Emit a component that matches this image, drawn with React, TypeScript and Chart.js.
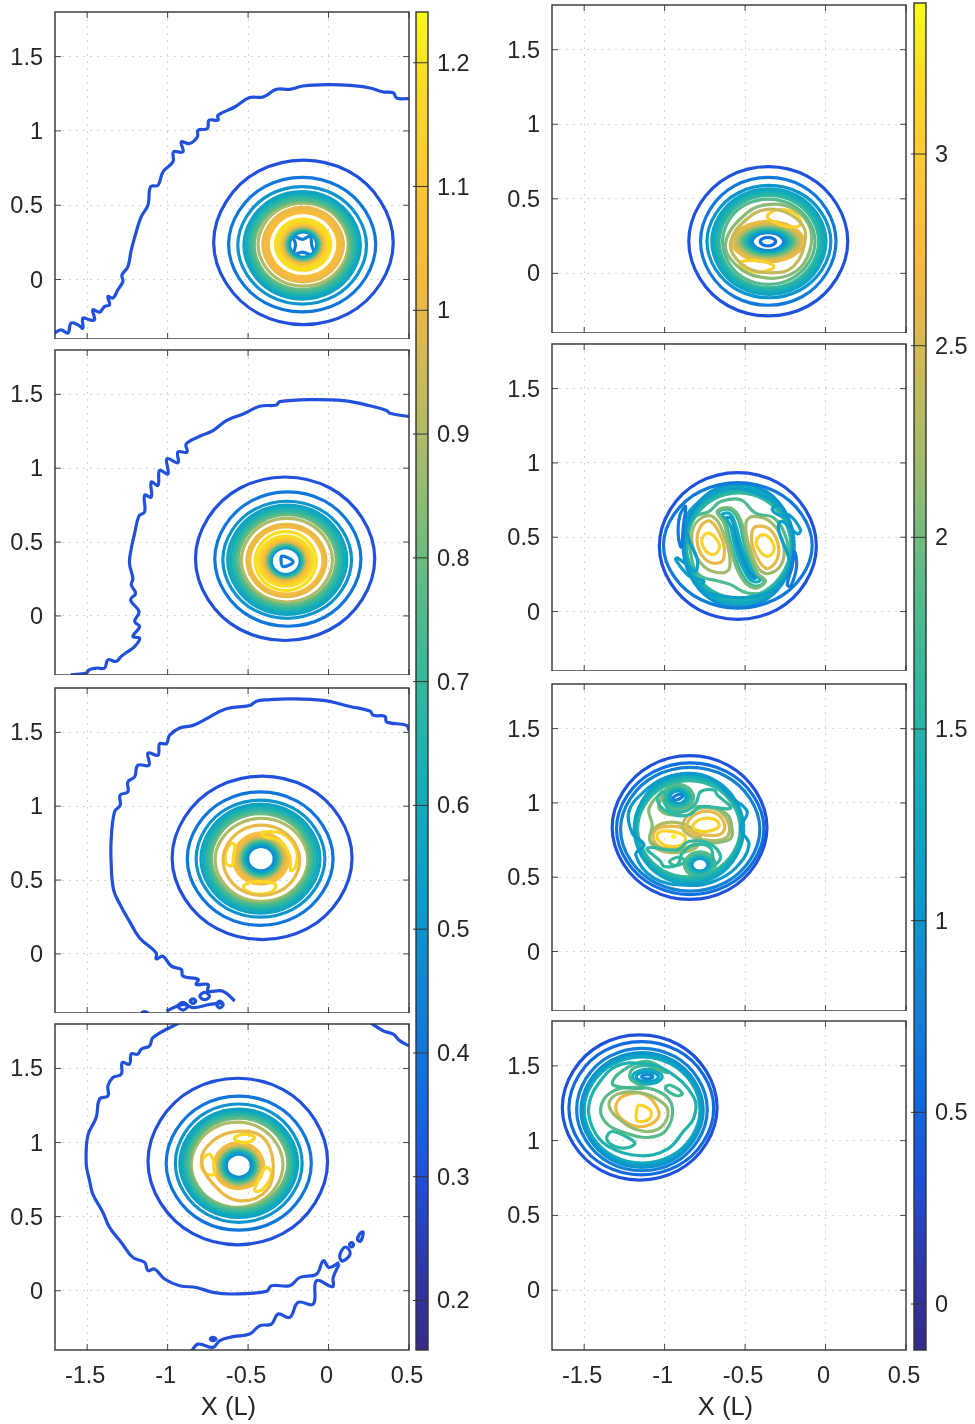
import React, { useEffect, useRef } from "react";
import { Chart, registerables } from "chart.js";
Chart.register(...registerables);

type Curve = [number, number[]];

const xTicks = [-1.5, -1, -0.5, 0, 0.5];
const yTicks = [0, 0.5, 1, 1.5];
const xRange = [-1.7, 0.5];
const yRange = [-0.4, 1.8];
const leftBarTicks = [0.2, 0.3, 0.4, 0.5, 0.6, 0.7, 0.8, 0.9, 1, 1.1, 1.2];
const rightBarTicks = [0, 0.5, 1, 1.5, 2, 2.5, 3];
const leftBarRange = [0.16, 1.241];
const rightBarRange = [-0.12, 3.394];
const mapStops = [0, 0.06, 0.13, 0.2, 0.27, 0.34, 0.42, 0.5, 0.58, 0.66, 0.74, 0.8, 0.88, 0.95, 1];
const mapColors = ["#352a87", "#2f37a8", "#2050dc", "#0f6fe0", "#1285d4", "#0a9cca", "#14adb8", "#34b89c", "#62bb85", "#a0bb6c", "#d2ba55", "#f5b93f", "#fcc733", "#f8dd22", "#f9fb15"];

const panelAOpen: Curve[] = [[0.3, [-1.703,-.36,-1.662,-.338,-1.62,-.36,-1.6,-.293,-1.558,-.304,-1.527,-.327,-1.527,-.26,-1.485,-.271,-1.454,-.271,-1.465,-.204,-1.423,-.219,-1.392,-.181,-1.361,-.17,-1.371,-.114,-1.34,-.125,-1.309,-.069,-1.278,-.013,-1.284,.031,-1.247,.087,-1.226,.199,-1.195,.322,-1.164,.423,-1.122,.501,-1.106,.624,-1.06,.635,-1.029,.725,-.967,.792,-.963,.859,-.905,.859,-.915,.926,-.863,.915,-.815,.96,-.811,1.004,-.753,1.016,-.743,1.072,-.687,1.072,-.687,1.105,-.583,1.161,-.49,1.224,-.407,1.228,-.324,1.28,-.241,1.28,-.158,1.302,0,1.311,.133,1.306,.257,1.289,.34,1.262,.402,1.257,.423,1.221,.5,1.217]]];
const panelAClosed: Curve[] = [
[0.3,[.402,.25,.123,.729,-.435,.729,-.714,.25,-.435,-.229,.123,-.229]],
[0.4,[.293,.235,.065,.627,-.393,.627,-.621,.235,-.393,-.157,.065,-.157]],
[0.5,[.236,.23,.036,.572,-.364,.572,-.564,.23,-.364,-.112,.036,-.112]],
[0.56,[.198,.23,.017,.543,-.345,.543,-.526,.23,-.345,-.083,.017,-.083]],
[0.62,[.181,.23,.008,.529,-.336,.529,-.509,.23,-.336,-.069,.008,-.069]],
[0.68,[.164,.23,0,.514,-.328,.514,-.492,.23,-.328,-.054,0,-.054]],
[0.74,[.148,.23,-.008,.5,-.32,.5,-.476,.23,-.32,-.04,-.008,-.04]],
[0.8,[.134,.23,-.015,.488,-.313,.488,-.462,.23,-.313,-.028,-.015,-.028]],
[0.9,[.122,.235,-.018,.477,-.298,.477,-.438,.235,-.298,-.007,-.018,-.007]],
[1.0,[.092,.235,-.033,.452,-.283,.452,-.408,.235,-.283,.018,-.033,.018]],
[1.03,[.074,.235,-.042,.436,-.274,.436,-.39,.235,-.274,.034,-.042,.034]],
[1.05,[.058,.235,-.05,.422,-.266,.422,-.374,.235,-.266,.048,-.05,.048]],
[1.19,[.014,.235,-.072,.384,-.244,.384,-.33,.235,-.244,.086,-.072,.086]],
[1.18,[0,.235,-.079,.372,-.237,.372,-.316,.235,-.237,.098,-.079,.098]],
[1.13,[-.013,.235,-.086,.361,-.231,.361,-.303,.235,-.231,.109,-.086,.109]],
[1.03,[-.026,.235,-.092,.349,-.224,.349,-.29,.235,-.224,.121,-.092,.121]],
[0.9,[-.038,.235,-.098,.339,-.218,.339,-.278,.235,-.218,.131,-.098,.131]],
[0.76,[-.05,.235,-.104,.329,-.212,.329,-.266,.235,-.212,.141,-.104,.141]],
[0.62,[-.062,.235,-.11,.318,-.206,.318,-.254,.235,-.206,.152,-.11,.152]],
[0.5,[-.074,.235,-.116,.308,-.2,.308,-.242,.235,-.2,.162,-.116,.162]],
[0.42,[-.115,.29,-.165,.27,-.22,.295,-.205,.235,-.215,.17,-.16,.185,-.09,.16,-.105,.235]],
];

const panelBOpen: Curve[] = [[0.3,[-1.6,-.398,-1.506,-.387,-1.485,-.364,-1.444,-.353,-1.392,-.353,-1.371,-.297,-1.32,-.308,-1.288,-.274,-1.247,-.241,-1.205,-.207,-1.174,-.151,-1.216,-.139,-1.174,-.072,-1.205,-.038,-1.178,.029,-1.23,.108,-1.199,.153,-1.226,.209,-1.216,.254,-1.237,.355,-1.226,.456,-1.205,.558,-1.178,.677,-1.143,.704,-1.143,.816,-1.102,.805,-1.102,.906,-1.06,.884,-1.05,.985,-.998,.962,-1.004,1.064,-.936,1.037,-.936,1.109,-.88,1.109,-.884,1.165,-.79,1.221,-.718,1.255,-.635,1.322,-.531,1.367,-.427,1.419,-.324,1.428,-.303,1.45,-.116,1.464,.091,1.457,.257,1.423,.361,1.39,.382,1.372,.5,1.349]]];
const panelBClosed: Curve[] = [
[0.3,[.287,.387,.009,.866,-.549,.866,-.827,.387,-.549,-.092,.009,-.092]],
[0.4,[.201,.385,-.026,.779,-.48,.779,-.707,.385,-.48,-.009,-.026,-.009]],
[0.5,[.143,.38,-.057,.723,-.457,.723,-.657,.38,-.457,.037,-.057,.037]],
[0.56,[.113,.38,-.072,.7,-.442,.7,-.627,.38,-.442,.06,-.072,.06]],
[0.62,[.095,.38,-.081,.685,-.433,.685,-.609,.38,-.433,.075,-.081,.075]],
[0.68,[.078,.38,-.089,.67,-.425,.67,-.592,.38,-.425,.09,-.089,.09]],
[0.74,[.063,.38,-.097,.657,-.417,.657,-.577,.38,-.417,.103,-.097,.103]],
[0.8,[.048,.38,-.105,.644,-.409,.644,-.562,.38,-.409,.116,-.105,.116]],
[0.9,[.024,.377,-.117,.622,-.401,.622,-.542,.377,-.401,.132,-.117,.132]],
[1.0,[-.017,.375,-.14,.587,-.384,.587,-.507,.375,-.384,.163,-.14,.163]],
[1.03,[-.034,.375,-.148,.572,-.376,.572,-.49,.375,-.376,.178,-.148,.178]],
[1.19,[-.076,.371,-.171,.544,-.361,.544,-.456,.371,-.361,.198,-.171,.198]],
[1.18,[-.096,.371,-.181,.518,-.351,.518,-.436,.371,-.351,.224,-.181,.224]],
[1.13,[-.111,.371,-.188,.505,-.344,.505,-.421,.371,-.344,.237,-.188,.237]],
[1.04,[-.126,.371,-.196,.492,-.336,.492,-.406,.371,-.336,.25,-.196,.25]],
[0.9,[-.139,.371,-.203,.481,-.329,.481,-.393,.371,-.329,.261,-.203,.261]],
[0.76,[-.152,.371,-.209,.47,-.323,.47,-.38,.371,-.323,.272,-.209,.272]],
[0.62,[-.164,.371,-.215,.459,-.317,.459,-.368,.371,-.317,.283,-.215,.283]],
[0.5,[-.176,.371,-.221,.449,-.311,.449,-.356,.371,-.311,.293,-.221,.293]],
[0.42,[-.288,.405,-.22,.367,-.282,.333,-.295,.37]],
];

const panelCOpen: Curve[] = [
[0.3,[.5,1.513,.485,1.547,.361,1.57,.351,1.608,.278,1.615,.257,1.644,.133,1.675,-.033,1.716,-.241,1.727,-.386,1.72,-.448,1.711,-.49,1.682,-.635,1.66,-.759,1.592,-.842,1.547,-.925,1.529,-.988,1.48,-1.008,1.423,-1.05,1.423,-1.06,1.345,-1.122,1.36,-1.116,1.277,-1.185,1.277,-1.205,1.199,-1.247,1.165,-1.247,1.097,-1.295,1.075,-1.295,1.007,-1.33,.962,-1.351,.771,-1.351,.614,-1.336,.434,-1.295,.333,-1.237,.22,-1.174,.108,-1.071,.007,-1.071,-.034,-1.029,-.016,-.977,-.083,-.915,-.106,-.905,-.151,-.811,-.173,-.822,-.207,-.749,-.207,-.749,-.252,-.656,-.252,-.583,-.319]],
[0.3,[-1.008,-.387,-.905,-.342,-.842,-.364,-.738,-.342,-.656,-.331]],
[0.3,[-1.165,-.4,-1.143,-.39,-1.12,-.4]],
];
const panelCClosed: Curve[] = [
[0.3,[-.74,-.286,-.77,-.26,-.8,-.286,-.77,-.31]],
[0.3,[-.825,-.319,-.842,-.305,-.86,-.319,-.842,-.335]],
[0.3,[-.655,-.342,-.676,-.32,-.695,-.342,-.676,-.365]],
[0.3,[-.875,-.353,-.905,-.33,-.935,-.353,-.905,-.38]],
[0.3,[.146,.65,-.133,1.129,-.693,1.129,-.972,.65,-.693,.171,-.133,.171]],
[0.4,[.028,.645,-.199,1.036,-.651,1.036,-.878,.645,-.651,.254,-.199,.254]],
[0.5,[-.023,.645,-.223,.988,-.623,.988,-.823,.645,-.623,.302,-.223,.302]],
[0.56,[-.053,.645,-.238,.965,-.608,.965,-.793,.645,-.608,.325,-.238,.325]],
[0.62,[-.071,.645,-.247,.95,-.599,.95,-.775,.645,-.599,.34,-.247,.34]],
[0.68,[-.088,.645,-.255,.935,-.591,.935,-.758,.645,-.591,.355,-.255,.355]],
[0.74,[-.103,.645,-.263,.922,-.583,.922,-.743,.645,-.583,.368,-.263,.368]],
[0.8,[-.118,.645,-.271,.909,-.575,.909,-.728,.645,-.575,.381,-.271,.381]],
[0.9,[-.129,.636,-.273,.879,-.561,.879,-.705,.636,-.561,.393,-.273,.393]],
[1.0,[-.179,.634,-.298,.84,-.536,.84,-.655,.634,-.536,.428,-.298,.428]],
[1.17,[-.61,.745,-.585,.74,-.59,.66,-.6,.6,-.635,.61,-.64,.68]],
[1.17,[-.41,.825,-.28,.81,-.2,.7,-.205,.59,-.235,.565,-.24,.66,-.3,.76,-.41,.8]],
[1.17,[-.525,.465,-.43,.49,-.33,.47,-.355,.42,-.45,.405,-.515,.43]],
[1.05,[-.248,.645,-.334,.794,-.506,.794,-.592,.645,-.506,.496,-.334,.496]],
[1.02,[-.26,.645,-.34,.784,-.5,.784,-.58,.645,-.5,.506,-.34,.506]],
[0.95,[-.272,.645,-.346,.773,-.494,.773,-.568,.645,-.494,.517,-.346,.517]],
[0.86,[-.284,.645,-.352,.763,-.488,.763,-.556,.645,-.488,.527,-.352,.527]],
[0.76,[-.296,.645,-.358,.752,-.482,.752,-.544,.645,-.482,.538,-.358,.538]],
[0.66,[-.308,.645,-.364,.742,-.476,.742,-.532,.645,-.476,.548,-.364,.548]],
[0.56,[-.322,.645,-.371,.73,-.469,.73,-.518,.645,-.469,.56,-.371,.56]],
[0.48,[-.338,.645,-.379,.716,-.461,.716,-.502,.645,-.461,.574,-.379,.574]],
];

const panelDOpen: Curve[] = [
[0.3,[-.925,1.81,-1.091,1.709,-1.112,1.653,-1.164,1.63,-1.185,1.597,-1.226,1.597,-1.237,1.529,-1.282,1.54,-1.288,1.462,-1.34,1.439,-1.371,1.383,-1.371,1.315,-1.423,1.293,-1.444,1.169,-1.496,1.046,-1.506,.855,-1.485,.742,-1.465,.652,-1.402,.528,-1.361,.427,-1.288,.326,-1.216,.225,-1.143,.191,-1.122,.135,-1.081,.146,-1.019,.079,-.925,.034,-.822,.022,-.718,-.011,-.593,-.022,-.386,-.004,-.355,.034,-.241,.034,-.178,.09,-.075,.112,-.033,.202,.004,.157,.066,.191]],
[0.3,[.066,.18,.029,.09,.025,.027,-.075,.067,-.095,-.09,-.189,-.079,-.241,-.18,-.313,-.157,-.355,-.225,-.427,-.236,-.49,-.292,-.593,-.31,-.676,-.337,-.718,-.382,-.811,-.36,-.853,-.41]],
[0.3,[.257,1.81,.34,1.754,.402,1.731,.444,1.686,.5,1.653]],
];
const panelDClosed: Curve[] = [
[0.3,[.135,.25,.105,.295,.07,.24,.085,.2]],
[0.3,[.155,.31,.143,.325,.13,.31,.143,.295]],
[0.3,[.215,.395,.195,.385,.18,.345,.2,.335]],
[0.3,[-.7,-.326,-.718,-.315,-.735,-.326,-.718,-.337]],
[0.3,[-.006,.872,-.285,1.359,-.843,1.359,-1.122,.872,-.843,.385,-.285,.385]],
[0.4,[-.107,.861,-.332,1.253,-.784,1.253,-1.009,.861,-.784,.469,-.332,.469]],
[0.5,[-.164,.861,-.361,1.207,-.755,1.207,-.952,.861,-.755,.515,-.361,.515]],
[0.56,[-.192,.86,-.375,1.177,-.741,1.177,-.924,.86,-.741,.543,-.375,.543]],
[0.62,[-.208,.86,-.383,1.163,-.733,1.163,-.908,.86,-.733,.557,-.383,.557]],
[0.68,[-.223,.86,-.39,1.15,-.726,1.15,-.893,.86,-.726,.57,-.39,.57]],
[0.74,[-.238,.86,-.398,1.137,-.718,1.137,-.878,.86,-.718,.583,-.398,.583]],
[0.8,[-.253,.86,-.406,1.124,-.71,1.124,-.863,.86,-.71,.596,-.406,.596]],
[0.9,[-.283,.85,-.426,1.099,-.71,1.099,-.853,.85,-.71,.601,-.426,.601]],
[1.0,[-.344,.855,-.407,1.034,-.568,1.075,-.718,1.012,-.79,.877,-.697,.697,-.552,.607,-.386,.675]],
[1.17,[-.583,1.034,-.52,1.057,-.459,1.034,-.511,1.0,-.573,1.012]],
[1.17,[-.79,.866,-.739,.922,-.708,.832,-.718,.783,-.77,.798]],
[1.17,[-.386,.832,-.355,.787,-.407,.686,-.458,.675,-.438,.742]],
[1.04,[-.403,.843,-.48,.977,-.636,.977,-.713,.843,-.636,.709,-.48,.709]],
[0.96,[-.416,.843,-.487,.966,-.629,.966,-.7,.843,-.629,.72,-.487,.72]],
[0.86,[-.428,.843,-.493,.956,-.623,.956,-.688,.843,-.623,.73,-.493,.73]],
[0.76,[-.44,.843,-.499,.945,-.617,.945,-.676,.843,-.617,.741,-.499,.741]],
[0.66,[-.452,.843,-.505,.935,-.611,.935,-.664,.843,-.611,.751,-.505,.751]],
[0.56,[-.464,.843,-.511,.924,-.605,.924,-.652,.843,-.605,.762,-.511,.762]],
[0.48,[-.48,.843,-.519,.91,-.597,.91,-.636,.843,-.597,.776,-.519,.776]],
];

const panelEClosed: Curve[] = [
[0.35,[.138,.215,-.109,.649,-.603,.649,-.85,.215,-.603,-.219,-.109,-.219]],
[0.7,[.065,.215,-.146,.587,-.566,.587,-.777,.215,-.566,-.157,-.146,-.157]],
[1.0,[.033,.213,-.16,.539,-.544,.539,-.737,.213,-.544,-.113,-.16,-.113]],
[1.2,[.003,.213,-.174,.52,-.53,.52,-.707,.213,-.53,-.094,-.174,-.094]],
[1.35,[-.012,.213,-.182,.507,-.522,.507,-.692,.213,-.522,-.081,-.182,-.081]],
[1.5,[-.027,.213,-.19,.494,-.514,.494,-.677,.213,-.514,-.068,-.19,-.068]],
[1.65,[-.042,.213,-.197,.481,-.507,.481,-.662,.213,-.507,-.055,-.197,-.055]],
[1.85,[-.065,.213,-.21,.46,-.5,.46,-.64,.213,-.5,-.035,-.21,-.035]],
[2.1,[-.093,.295,-.197,.43,-.342,.463,-.487,.407,-.621,.206,-.549,.049,-.383,-.029,-.217,-.007,-.114,.105]],
[2.4,[-.124,.251,-.176,.362,-.321,.43,-.466,.385,-.59,.206,-.518,.06,-.362,.004,-.197,.049]],
[3.1,[-.362,.385,-.302,.425,-.197,.407,-.155,.329,-.238,.313,-.331,.35]],
[3.1,[-.532,.072,-.404,.083,-.321,.045,-.404,.009,-.497,.027]],
[2.65,[-.133,.213,-.246,.33,-.47,.33,-.583,.213,-.47,.096,-.246,.096]],
[2.5,[-.151,.213,-.254,.321,-.462,.321,-.565,.213,-.462,.105,-.254,.105]],
[2.3,[-.168,.213,-.263,.313,-.453,.313,-.548,.213,-.453,.113,-.263,.113]],
[2.05,[-.183,.213,-.27,.304,-.446,.304,-.533,.213,-.446,.122,-.27,.122]],
[1.8,[-.198,.213,-.278,.297,-.438,.297,-.518,.213,-.438,.129,-.278,.129]],
[1.55,[-.213,.213,-.286,.289,-.43,.289,-.503,.213,-.43,.137,-.286,.137]],
[1.3,[-.228,.213,-.293,.282,-.423,.282,-.488,.213,-.423,.144,-.293,.144]],
[1.05,[-.243,.213,-.3,.274,-.416,.274,-.473,.213,-.416,.152,-.3,.152]],
[0.85,[-.26,.213,-.309,.265,-.407,.265,-.456,.213,-.407,.161,-.309,.161]],
[0.6,[-.31,.213,-.334,.237,-.382,.237,-.406,.213,-.382,.189,-.334,.189]],
];

const panelFClosed: Curve[] = [
[0.35,[-.057,.441,-.301,.869,-.789,.869,-1.033,.441,-.789,.013,-.301,.013]],
[0.7,[-.083,.445,-.314,.809,-.776,.809,-1.007,.445,-.776,.081,-.314,.081]],
[0.7,[-.87,.707,-.907,.64,-.915,.506,-.896,.434,-.884,.573]],
[0.7,[-.193,.405,-.18,.304,-.217,.17,-.238,.181,-.207,.304]],
[1.0,[-.195,.445,-.368,.809,-.712,.809,-.885,.445,-.712,.081,-.368,.081]],
[1.2,[-.2,.445,-.37,.793,-.71,.793,-.88,.445,-.71,.097,-.37,.097]],
[1.1,[-.538,.83,-.383,.774,-.304,.729,-.331,.685,-.269,.64,-.228,.651,-.155,.55,-.176,.523,-.238,.584,-.28,.606,-.29,.539,-.238,.394,-.217,.282,-.28,.192,-.362,.125,-.528,.092,-.735,.125,-.787,.159,-.756,.204,-.818,.226,-.859,.248,-.932,.349,-.921,.36,-.849,.304,-.807,.271,-.797,.349,-.849,.483,-.87,.617,-.797,.729,-.673,.808]],
[1.35,[-.205,.445,-.372,.779,-.708,.779,-.875,.445,-.708,.111,-.372,.111]],
[1.5,[-.21,.445,-.375,.765,-.705,.765,-.87,.445,-.705,.125,-.375,.125]],
[1.65,[-.215,.445,-.378,.752,-.702,.752,-.865,.445,-.702,.138,-.378,.138]],
[1.8,[-.725,.673,-.652,.74,-.528,.752,-.435,.662,-.321,.629,-.248,.506,-.228,.349,-.259,.237,-.352,.136,-.487,.125,-.59,.181,-.663,.204,-.787,.248,-.839,.394,-.849,.55,-.807,.64]],
[2.2,[-.704,.64,-.621,.483,-.594,.304,-.642,.26,-.756,.304,-.828,.45,-.807,.595]],
[2.2,[-.385,.26,-.468,.416,-.495,.595,-.447,.64,-.333,.595,-.261,.45,-.282,.304]],
[2.6,[-.714,.606,-.642,.483,-.631,.371,-.663,.327,-.745,.349,-.797,.461,-.776,.573]],
[2.6,[-.375,.293,-.447,.416,-.458,.528,-.427,.573,-.344,.55,-.292,.438,-.313,.327]],
[3.1,[-.725,.528,-.669,.472,-.663,.416,-.704,.383,-.756,.427,-.766,.494]],
[3.1,[-.364,.371,-.42,.427,-.427,.483,-.385,.517,-.333,.472,-.323,.405]],
[2.0,[-.673,.673,-.59,.696,-.528,.617,-.487,.438,-.424,.26,-.373,.204,-.445,.159,-.528,.237,-.6,.461,-.631,.595]],
[1.6,[-.663,.667,-.59,.685,-.538,.606,-.501,.438,-.435,.271,-.383,.197,-.449,.174,-.518,.248,-.586,.45,-.617,.584]],
[1.3,[-.642,.651,-.594,.658,-.559,.584,-.518,.427,-.455,.282,-.408,.21,-.455,.204,-.503,.271,-.565,.45,-.594,.584]],
[1.0,[-.615,.629,-.59,.629,-.565,.562,-.532,.427,-.476,.282,-.435,.226,-.466,.233,-.497,.293,-.549,.45,-.586,.562]],
[0.7,[-.58,.562,-.549,.494,-.511,.338,-.487,.26,-.511,.293,-.549,.394,-.565,.494]],
];

const panelGClosed: Curve[] = [
[0.35,[-.364,.834,-.605,1.253,-1.085,1.253,-1.326,.834,-1.085,.415,-.605,.415]],
[0.6,[-.383,.826,-.612,1.209,-1.07,1.209,-1.299,.826,-1.07,.443,-.612,.443]],
[0.8,[-.408,.823,-.625,1.183,-1.057,1.183,-1.274,.823,-1.057,.463,-.625,.463]],
[1.05,[-.849,1.199,-.714,1.166,-.58,1.031,-.487,.942,-.528,.83,-.476,.718,-.559,.562,-.694,.472,-.849,.445,-1.066,.494,-1.18,.651,-1.128,.718,-1.201,.796,-1.222,.942,-1.128,1.076,-1.004,1.166]],
[1.2,[-.509,.826,-.679,1.146,-1.019,1.146,-1.189,.826,-1.019,.506,-.679,.506]],
[1.35,[-.516,.826,-.683,1.133,-1.015,1.133,-1.182,.826,-1.015,.519,-.683,.519]],
[1.5,[-.523,.826,-.686,1.12,-1.012,1.12,-1.175,.826,-1.012,.532,-.686,.532]],
[1.65,[-.53,.826,-.689,1.107,-1.009,1.107,-1.168,.826,-1.009,.545,-.689,.545]],
[1.6,[-1.046,1.02,-.973,.931,-.849,.919,-.776,.975,-.59,.964,-.673,1.054,-.694,1.087,-.776,1.076,-.807,.998,-.88,.942,-.983,.964,-1.004,1.076]],
[1.6,[-.652,.64,-.725,.729,-.849,.74,-.921,.685,-1.108,.696,-1.025,.606,-1.004,.573,-.921,.584,-.89,.662,-.818,.718,-.714,.696,-.694,.584]],
[1.7,[-.969,.606,-.911,.635,-.876,.606,-.932,.579]],
[2.1,[-1.014,1.065,-1.097,.964,-1.077,.852,-1.087,.74,-.942,.673,-.797,.718,-.6,.752,-.58,.819,-.621,.931,-.797,.975,-.952,.919,-1.035,.964]],
[2.3,[-.89,.852,-.807,.953,-.673,.953,-.6,.852,-.621,.763,-.756,.752,-.855,.79]],
[2.6,[-.863,.852,-.797,.931,-.683,.931,-.627,.852,-.652,.79,-.756,.785,-.839,.803]],
[3.1,[-.822,.852,-.766,.893,-.683,.886,-.663,.841,-.735,.808,-.807,.819]],
[2.3,[-1.087,.796,-1.004,.864,-.87,.852,-.776,.763,-.828,.685,-.983,.669,-1.077,.718]],
[2.6,[-1.066,.803,-1.004,.841,-.88,.83,-.797,.763,-.849,.707,-.983,.691,-1.056,.729]],
[3.1,[-1.041,.796,-.983,.812,-.88,.781,-.88,.729,-.973,.707,-1.041,.752]],
[3.35,[-.935,.774,-.942,.78,-.95,.774,-.942,.768]],
[1.85,[-.82,1.038,-.869,1.112,-.965,1.112,-1.014,1.038,-.965,.964,-.869,.964]],
[1.6,[-.837,1.038,-.877,1.099,-.957,1.099,-.997,1.038,-.957,.977,-.877,.977]],
[1.35,[-.852,1.038,-.885,1.086,-.949,1.086,-.982,1.038,-.949,.99,-.885,.99]],
[1.1,[-.867,1.038,-.892,1.074,-.942,1.074,-.967,1.038,-.942,1.002,-.892,1.002]],
[0.75,[-.885,1.05,-.91,1.058,-.95,1.03,-.925,1.02]],
[1.85,[-.684,.584,-.733,.658,-.829,.658,-.878,.584,-.829,.51,-.733,.51]],
[1.6,[-.701,.584,-.741,.645,-.821,.645,-.861,.584,-.821,.523,-.741,.523]],
[1.35,[-.716,.584,-.749,.632,-.813,.632,-.846,.584,-.813,.536,-.749,.536]],
[1.05,[-.731,.584,-.756,.62,-.806,.62,-.831,.584,-.806,.548,-.756,.548]],
];

const panelHClosed: Curve[] = [
[0.35,[-.674,1.222,-.915,1.643,-1.395,1.643,-1.636,1.222,-1.395,.801,-.915,.801]],
[0.55,[-.695,1.217,-.92,1.603,-1.37,1.603,-1.595,1.217,-1.37,.831,-.92,.831]],
[0.75,[-.735,1.208,-.938,1.563,-1.344,1.563,-1.547,1.208,-1.344,.853,-.938,.853]],
[1.0,[-.76,1.205,-.95,1.538,-1.33,1.538,-1.52,1.205,-1.33,.872,-.95,.872]],
[1.15,[-.77,1.205,-.955,1.525,-1.325,1.525,-1.51,1.205,-1.325,.885,-.955,.885]],
[1.3,[-.78,1.205,-.96,1.512,-1.32,1.512,-1.5,1.205,-1.32,.898,-.96,.898]],
[1.45,[-1.149,1.516,-.983,1.467,-.818,1.289,-.818,1.155,-.88,1.066,-.983,.943,-1.149,.899,-1.356,.965,-1.449,1.088,-1.47,1.244,-1.398,1.4,-1.294,1.501]],
[1.75,[-1.325,1.382,-1.263,1.467,-1.108,1.53,-.983,1.456,-1.025,1.467,-1.108,1.501,-1.201,1.478,-1.211,1.411,-1.128,1.356,-1.253,1.356]],
[1.85,[-1.398,1.211,-1.335,1.322,-1.19,1.356,-1.025,1.322,-.952,1.222,-.994,1.066,-1.108,1.021,-1.253,1.055,-1.356,1.11]],
[1.7,[-.994,1.356,-.963,1.371,-.89,1.316,-.921,1.3,-.983,1.333]],
[1.55,[-1.36,1.021,-1.325,1.061,-1.211,1.01,-1.186,.977,-1.263,.95,-1.335,.977]],
[1.3,[-1.015,1.427,-1.062,1.469,-1.154,1.469,-1.201,1.427,-1.154,1.385,-1.062,1.385]],
[1.1,[-1.038,1.427,-1.073,1.455,-1.143,1.455,-1.178,1.427,-1.143,1.399,-1.073,1.399]],
[0.85,[-1.073,1.427,-1.09,1.439,-1.126,1.439,-1.143,1.427,-1.126,1.415,-1.09,1.415]],
[2.15,[-1.346,1.244,-1.294,1.311,-1.159,1.322,-1.046,1.278,-.979,1.2,-1.025,1.088,-1.149,1.066,-1.294,1.155]],
[2.65,[-1.304,1.222,-1.253,1.3,-1.128,1.311,-1.046,1.222,-1.046,1.144,-1.149,1.093,-1.253,1.133]],
[3.1,[-1.174,1.2,-1.159,1.237,-1.087,1.2,-1.097,1.144,-1.17,1.133]],
];

function hexToRgb(h: string) {
  return [1, 3, 5].map((i) => parseInt(h.slice(i, i + 2), 16));
}
function colorAt(level: number, range: number[]) {
  const t = Math.min(1, Math.max(0, (level - range[0]) / (range[1] - range[0])));
  let i = 0;
  while (i < mapStops.length - 2 && t > mapStops[i + 1]) i++;
  const f = (t - mapStops[i]) / (mapStops[i + 1] - mapStops[i]);
  const a = hexToRgb(mapColors[i]);
  const b = hexToRgb(mapColors[i + 1]);
  return `rgb(${a.map((v, k) => Math.round(v + (b[k] - v) * f)).join(",")})`;
}
function toDataset(c: Curve, range: number[], closed: boolean) {
  const pts: { x: number; y: number }[] = [];
  for (let i = 0; i < c[1].length; i += 2) pts.push({ x: c[1][i], y: c[1][i + 1] });
  return {
    data: pts,
    closed,
    showLine: true,
    tension: 0.4,
    borderWidth: 3.2,
    borderColor: colorAt(c[0], range),
    pointRadius: 0,
    fill: false,
  };
}

const fontFamily = "'Liberation Sans', Arial, sans-serif";
const textColor = "#262626";

const closeLoops = {
  id: "closeLoops",
  afterDatasetsUpdate(chart: any) {
    chart.data.datasets.forEach((ds: any, i: number) => {
      if (!ds.closed) return;
      const line = chart.getDatasetMeta(i).dataset;
      if (!line) return;
      line._loop = true;
      line._fullLoop = true;
      delete line._segments;
      delete line._path;
      line._pointsUpdated = false;
    });
  },
};

const panelFrame = {
  id: "panelFrame",
  afterDraw(chart: any) {
    const { ctx, chartArea: a, scales } = chart;
    ctx.save();
    ctx.strokeStyle = "#444";
    ctx.lineWidth = 1;
    ctx.beginPath();
    scales.x.ticks.forEach((t: any) => {
      const p = scales.x.getPixelForValue(t.value);
      ctx.moveTo(p, a.top);
      ctx.lineTo(p, a.top + 6);
      ctx.moveTo(p, a.bottom);
      ctx.lineTo(p, a.bottom - 6);
    });
    scales.y.ticks.forEach((t: any) => {
      const p = scales.y.getPixelForValue(t.value);
      ctx.moveTo(a.left, p);
      ctx.lineTo(a.left + 6, p);
      ctx.moveTo(a.right, p);
      ctx.lineTo(a.right - 6, p);
    });
    ctx.stroke();
    ctx.strokeStyle = "#333";
    ctx.lineWidth = 1.4;
    ctx.strokeRect(a.left, a.top, a.right - a.left, a.bottom - a.top);
    ctx.restore();
  },
};

const barFrame = {
  id: "barFrame",
  afterDraw(chart: any) {
    const { ctx, chartArea: a, scales } = chart;
    ctx.save();
    ctx.strokeStyle = "#333";
    ctx.lineWidth = 1;
    ctx.beginPath();
    scales.y.ticks.forEach((t: any) => {
      const p = scales.y.getPixelForValue(t.value);
      ctx.moveTo(a.left - 3, p);
      ctx.lineTo(a.right, p);
    });
    ctx.stroke();
    ctx.lineWidth = 1.4;
    ctx.strokeRect(a.left, a.top, a.right - a.left, a.bottom - a.top);
    ctx.restore();
  },
};

function noPadding(s: any) {
  s.paddingLeft = 0;
  s.paddingRight = 0;
  s.paddingTop = 0;
  s.paddingBottom = 0;
}

const LEFT_MARGIN = 50;
const RIGHT_MARGIN = 22;
const TOP_MARGIN = 4;
const BOTTOM_SPACE = 73;

function Panel(props: { left: number; top: number; bottom: number; open: Curve[]; closed: Curve[]; range: number[]; labelled: boolean }) {
  const ref = useRef<HTMLCanvasElement>(null);
  const { left, top, bottom, open, closed, range, labelled } = props;
  useEffect(() => {
    const chart = new Chart(ref.current as any, {
      type: "scatter",
      data: { datasets: [...open.map((c) => toDataset(c, range, false)), ...closed.map((c) => toDataset(c, range, true))] as any },
      plugins: [closeLoops, panelFrame],
      options: {
        animation: false,
        responsive: false,
        layout: { autoPadding: false, padding: { top: TOP_MARGIN, right: RIGHT_MARGIN, left: 0, bottom: 0 } },
        plugins: { legend: { display: false }, tooltip: { enabled: false } },
        scales: {
          x: {
            type: "linear",
            min: xRange[0],
            max: xRange[1],
            afterBuildTicks: (s: any) => { s.ticks = xTicks.map((v) => ({ value: v })); },
            afterFit: (s: any) => { s.height = labelled ? BOTTOM_SPACE : 0; noPadding(s); },
            grid: { color: "#d4d4d4", lineWidth: 1, drawTicks: false },
            border: { display: false, dash: [2, 5] },
            ticks: { display: labelled, autoSkip: false, maxRotation: 0, padding: 12, labelOffset: -2, color: textColor, font: { family: fontFamily, size: 23.5 }, callback: (v: any) => String(v) },
            title: { display: labelled, text: "X (L)\u00a0", color: textColor, font: { family: fontFamily, size: 25.5 }, padding: { top: 0, bottom: 0 } },
          },
          y: {
            type: "linear",
            min: yRange[0],
            max: yRange[1],
            afterBuildTicks: (s: any) => { s.ticks = yTicks.map((v) => ({ value: v })); },
            afterFit: (s: any) => { s.width = LEFT_MARGIN; noPadding(s); },
            grid: { color: "#d4d4d4", lineWidth: 1, drawTicks: false },
            border: { display: false, dash: [2, 5] },
            ticks: { autoSkip: false, padding: 12, labelOffset: 1.5, color: textColor, font: { family: fontFamily, size: 23.5 }, callback: (v: any) => String(v) },
          },
        },
      } as any,
    });
    return () => chart.destroy();
  }, []);
  const w = 354 + LEFT_MARGIN + RIGHT_MARGIN;
  const h = bottom - top + TOP_MARGIN + (labelled ? BOTTOM_SPACE : 0);
  return <canvas ref={ref} width={w} height={h} style={{ position: "absolute", left: left - LEFT_MARGIN, top: top - TOP_MARGIN, width: w, height: h }} />;
}

function ColorBar(props: { left: number; top: number; bottom: number; range: number[]; ticks: number[] }) {
  const ref = useRef<HTMLCanvasElement>(null);
  const { left, top, bottom, range, ticks } = props;
  useEffect(() => {
    const chart = new Chart(ref.current as any, {
      type: "bar",
      data: {
        labels: ["colour"],
        datasets: [{
          data: [[range[0], range[1]]],
          categoryPercentage: 1,
          barPercentage: 1,
          backgroundColor: (c: any) => {
            const a = c.chart.chartArea;
            if (!a) return "#888";
            const g = c.chart.ctx.createLinearGradient(0, a.bottom, 0, a.top);
            mapStops.forEach((s, i) => g.addColorStop(s, mapColors[i]));
            return g;
          },
        }],
      },
      plugins: [barFrame],
      options: {
        animation: false,
        responsive: false,
        layout: { autoPadding: false, padding: { top: 2, left: 4, right: 0, bottom: 2 } },
        plugins: { legend: { display: false }, tooltip: { enabled: false } },
        scales: {
          x: { display: false },
          y: {
            type: "linear",
            position: "right",
            min: range[0],
            max: range[1],
            afterBuildTicks: (s: any) => { s.ticks = ticks.map((v) => ({ value: v })); },
            afterFit: (s: any) => { s.width = 46; noPadding(s); },
            grid: { display: false, drawTicks: false },
            border: { display: false },
            ticks: { autoSkip: false, padding: 9, labelOffset: 1.5, color: textColor, font: { family: fontFamily, size: 23.5 }, callback: (v: any) => String(v) },
          },
        },
      } as any,
    });
    return () => chart.destroy();
  }, []);
  const w = 62;
  const h = bottom - top + 4;
  return <canvas ref={ref} width={w} height={h} style={{ position: "absolute", left: left - 4, top: top - 2, width: w, height: h }} />;
}

export default function App() {
  return (
    <div style={{ position: "absolute", left: 0, top: 0, width: 975, height: 1424, background: "#fff", overflow: "hidden" }}>
      <Panel left={55} top={12} bottom={339} open={panelAOpen} closed={panelAClosed} range={leftBarRange} labelled={false} />
      <Panel left={55} top={350} bottom={675} open={panelBOpen} closed={panelBClosed} range={leftBarRange} labelled={false} />
      <Panel left={55} top={688} bottom={1013} open={panelCOpen} closed={panelCClosed} range={leftBarRange} labelled={false} />
      <Panel left={55} top={1024} bottom={1350} open={panelDOpen} closed={panelDClosed} range={leftBarRange} labelled={true} />
      <Panel left={552} top={5} bottom={333} open={[]} closed={panelEClosed} range={rightBarRange} labelled={false} />
      <Panel left={552} top={344} bottom={671} open={[]} closed={panelFClosed} range={rightBarRange} labelled={false} />
      <Panel left={552} top={684} bottom={1011} open={[]} closed={panelGClosed} range={rightBarRange} labelled={false} />
      <Panel left={552} top={1021} bottom={1350} open={[]} closed={panelHClosed} range={rightBarRange} labelled={true} />
      <ColorBar left={416} top={12} bottom={1350} range={leftBarRange} ticks={leftBarTicks} />
      <ColorBar left={914} top={3} bottom={1350} range={rightBarRange} ticks={rightBarTicks} />
    </div>
  );
}
